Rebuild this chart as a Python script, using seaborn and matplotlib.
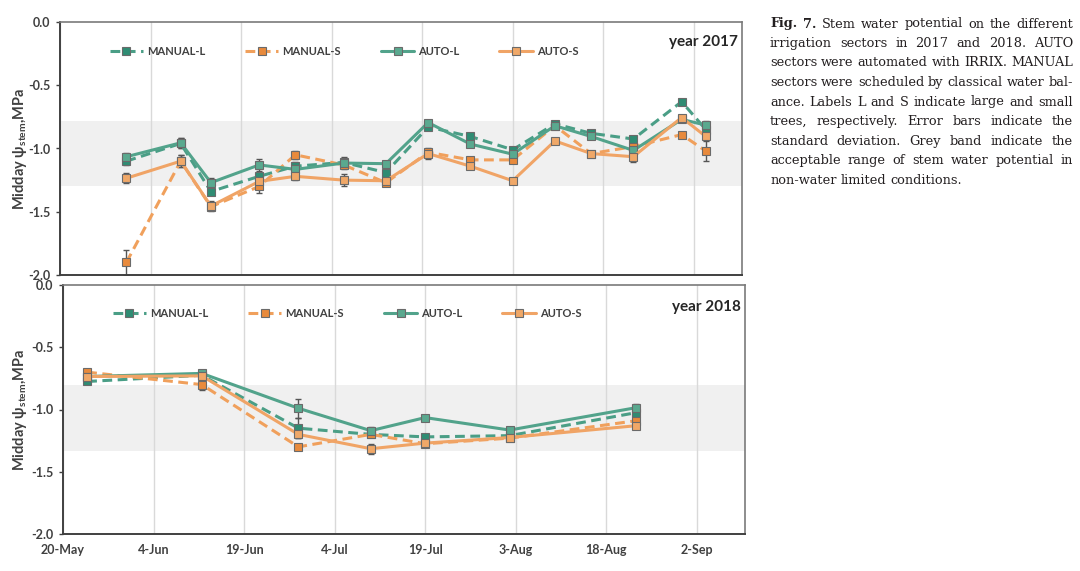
import datetime as dt
import numpy as np
import pandas as pd
import matplotlib
matplotlib.use("Agg")
import matplotlib.pyplot as plt
import seaborn as sns

sns.set_theme(style="white")
plt.rcParams['font.family'] = ['Lato', 'DejaVu Sans']
plt.rcParams['mathtext.fontset'] = 'custom'
plt.rcParams['mathtext.rm'] = 'Lato'
plt.rcParams['mathtext.it'] = 'Lato:italic'
plt.rcParams['mathtext.bf'] = 'Lato:bold'

# ---------------- data ----------------
series = ["MANUAL-L", "MANUAL-S", "AUTO-L", "AUTO-S"]

dates_2017 = ["05-31", "06-09", "06-14", "06-22", "06-28", "07-06", "07-13", "07-20",
              "07-27", "08-03", "08-10", "08-16", "08-23", "08-31", "09-04"]
manual_l_2017 = [-1.10, -0.96, -1.34, -1.22, -1.14, -1.11, -1.19, -0.83, -0.905, -1.01, -0.805, -0.88, -0.925, -0.63, -0.85]
manual_s_2017 = [-1.90, -1.10, -1.46, -1.30, -1.05, -1.13, -1.27, -1.03, -1.09, -1.09, -0.82, -1.04, -0.985, -0.89, -1.02]
auto_l_2017 = [-1.065, -0.955, -1.27, -1.13, -1.165, -1.115, -1.12, -0.795, -0.965, -1.045, -0.82, -0.905, -1.015, -0.77, -0.815]
auto_s_2017 = [-1.235, -1.10, -1.455, -1.26, -1.22, -1.25, -1.255, -1.04, -1.14, -1.255, -0.94, -1.04, -1.065, -0.755, -0.905]
sd_manual_l_2017 = [0.03, 0.04, 0.03, 0.03, 0.03, 0.04, 0.02, 0.02, 0.02, 0.02, 0.02, 0.02, 0.02, 0.02, 0.03]
sd_manual_s_2017 = [0.10, 0.05, 0.03, 0.055, 0.03, 0.03, 0.02, 0.02, 0.02, 0.02, 0.02, 0.02, 0.02, 0.02, 0.08]
sd_auto_l_2017 = [0.03, 0.04, 0.04, 0.05, 0.03, 0.04, 0.02, 0.02, 0.02, 0.02, 0.02, 0.02, 0.02, 0.02, 0.03]
sd_auto_s_2017 = [0.04, 0.05, 0.04, 0.04, 0.03, 0.05, 0.02, 0.04, 0.02, 0.02, 0.02, 0.02, 0.04, 0.02, 0.03]

dates_2018 = ["05-24", "06-12", "06-28", "07-10", "07-19", "08-02", "08-23"]
manual_l_2018 = [-0.775, -0.725, -1.15, -1.20, -1.22, -1.21, -1.025]
manual_s_2018 = [-0.70, -0.80, -1.30, -1.20, -1.275, -1.23, -1.09]
auto_l_2018 = [-0.735, -0.71, -0.99, -1.17, -1.065, -1.165, -0.985]
auto_s_2018 = [-0.735, -0.73, -1.20, -1.315, -1.27, -1.225, -1.13]
sd_manual_l_2018 = [0.02, 0.02, 0.08, 0.02, 0.02, 0.02, 0.02]
sd_manual_s_2018 = [0.02, 0.04, 0.02, 0.02, 0.02, 0.02, 0.02]
sd_auto_l_2018 = [0.02, 0.02, 0.075, 0.03, 0.01, 0.02, 0.03]
sd_auto_s_2018 = [0.02, 0.02, 0.03, 0.04, 0.02, 0.02, 0.02]

band_2017 = (-1.30, -0.78)
band_2018 = (-1.33, -0.80)

y_ticks = [0.0, -0.5, -1.0, -1.5, -2.0]
x_tick_labels = ["20-May", "4-Jun", "19-Jun", "4-Jul", "19-Jul", "3-Aug", "18-Aug", "2-Sep"]

caption_lines = [
    "Fig. 7. Stem water potential on the different",
    "irrigation sectors in 2017 and 2018. AUTO",
    "sectors were automated with IRRIX. MANUAL",
    "sectors were scheduled by classical water bal-",
    "ance. Labels L and S indicate large and small",
    "trees, respectively. Error bars indicate the",
    "standard deviation. Grey band indicate the",
    "acceptable range of stem water potential in",
    "non-water limited conditions.",
]

# ---------------- styles ----------------
line_col = {"MANUAL-L": "#4a9e86", "AUTO-L": "#52a38b", "MANUAL-S": "#f0a05c", "AUTO-S": "#f0a466"}
face_col = {"MANUAL-L": "#2f8c73", "AUTO-L": "#5aa98f", "MANUAL-S": "#e88a3c", "AUTO-S": "#f0a868"}
dashed = {"MANUAL-L": True, "MANUAL-S": True, "AUTO-L": False, "AUTO-S": False}
text_col = "#404040"


def build_df(year, dates, vals, sds):
    rows = []
    for name, v, s in zip(series, vals, sds):
        for d, yv, sv in zip(dates, v, s):
            m, dd = d.split("-")
            rows.append({"date": pd.Timestamp(year, int(m), int(dd)), "value": yv, "sd": sv, "series": name})
    return pd.DataFrame(rows)


df17 = build_df(2017, dates_2017,
                [manual_l_2017, manual_s_2017, auto_l_2017, auto_s_2017],
                [sd_manual_l_2017, sd_manual_s_2017, sd_auto_l_2017, sd_auto_s_2017])
df18 = build_df(2018, dates_2018,
                [manual_l_2018, manual_s_2018, auto_l_2018, auto_s_2018],
                [sd_manual_l_2018, sd_manual_s_2018, sd_auto_l_2018, sd_auto_s_2018])

W, H = 1080, 571
fig = plt.figure(figsize=(W / 100, H / 100), dpi=100)
ax1 = fig.add_axes([60 / W, 1 - 275 / H, 682 / W, 253 / H])
ax2 = fig.add_axes([63 / W, 1 - 534 / H, 682 / W, 249 / H])


def draw_panel(ax, df, year, band, label, show_x):
    start = pd.Timestamp(year, 5, 20)
    end = pd.Timestamp(year, 9, 10)
    ticks = [start + pd.Timedelta(days=15 * i) for i in range(len(x_tick_labels))]
    ax.axhspan(band[0], band[1], color="#f0f0f0", zorder=0, lw=0)
    for t in ticks:
        ax.axvline(t, color="#d9d9d9", lw=1.0, zorder=0.5)
    for name in series:
        sub = df[df.series == name]
        ax.errorbar(sub.date, sub.value, yerr=sub.sd, fmt="none", ecolor="#555555",
                    elinewidth=1.0, capsize=2.5, capthick=1.0, zorder=2)
        sns.lineplot(data=sub, x="date", y="value", ax=ax, color=line_col[name],
                     lw=2.2, marker="s", markersize=6, markerfacecolor=face_col[name],
                     markeredgecolor="#6a6a6a", markeredgewidth=0.8,
                     linestyle=(0, (3.2, 1.8)) if dashed[name] else "-",
                     label=name, zorder=3, errorbar=None, estimator=None, sort=False)
    ax.set_xlim(start, end)
    ax.set_ylim(-2.0, 0.0)
    ax.set_yticks(y_ticks)
    ax.set_yticklabels([f"{v:.1f}" for v in y_ticks], fontsize=9, fontweight="bold", color=text_col)
    ax.set_xticks(ticks)
    if show_x:
        ax.set_xticklabels(x_tick_labels, fontsize=9, fontweight="bold", color=text_col)
    else:
        ax.set_xticklabels([])
    ax.tick_params(axis="y", length=3, width=1, color="#404040", pad=4, direction="out", left=True)
    ax.tick_params(axis="x", length=0, pad=7)
    ax.set_xlabel("")
    ax.set_ylabel(r"Midday ψ$_{\mathbf{stem}}$,MPa", fontsize=10.5, fontweight="bold",
                  color=text_col)
    for sp in ["left", "bottom"]:
        ax.spines[sp].set_color("#404040")
        ax.spines[sp].set_linewidth(1.4)
    for sp in ["top", "right"]:
        ax.spines[sp].set_color("#7a7a7a")
        ax.spines[sp].set_linewidth(1.2)
    ax.text(0.994, 0.92 if year == 2017 else 0.91, label, transform=ax.transAxes, ha="right", va="center",
            fontsize=11, fontweight="bold", color="#262626")
    leg = ax.legend(loc="center left", bbox_to_anchor=(0.058, 0.885), ncol=4, frameon=False,
                    handlelength=3.0, handletextpad=0.35, columnspacing=3.6,
                    prop={"weight": "bold", "size": 8})
    for t in leg.get_texts():
        t.set_color(text_col)
    ax.grid(False)


draw_panel(ax1, df17, 2017, band_2017, "year 2017", False)
draw_panel(ax2, df18, 2018, band_2018, "year 2018", True)
ax1.yaxis.set_label_coords(-0.046, 0.5)
ax2.yaxis.set_label_coords(-0.050, 0.5)

# ---------------- caption (justified) ----------------
fig.canvas.draw()
renderer = fig.canvas.get_renderer()
cap_family = ["DejaVu Serif"]
cap_size = 10.0
x_left, x_right = 770, 1073
y0, dy = 24, 19.5


def wwidth(word, weight, size):
    t = fig.text(0, 0, word, fontsize=size, family=cap_family, weight=weight)
    w = t.get_window_extent(renderer).width
    t.remove()
    return w


def line_words(i, line):
    words = line.split(" ")
    weights = ["bold" if (i == 0 and k < 2) else "normal" for k in range(len(words))]
    return words, weights


# shrink font if any line would overflow with normal spacing
for _ in range(10):
    sp = wwidth("a a", "normal", cap_size) - 2 * wwidth("a", "normal", cap_size)
    ok = True
    for i, line in enumerate(caption_lines):
        words, weights = line_words(i, line)
        tot = sum(wwidth(w, wt, cap_size) for w, wt in zip(words, weights)) + sp * 0.6 * (len(words) - 1)
        if tot > x_right - x_left:
            ok = False
            break
    if ok:
        break
    cap_size -= 0.25

for i, line in enumerate(caption_lines):
    words, weights = line_words(i, line)
    widths = [wwidth(w, wt, cap_size) for w, wt in zip(words, weights)]
    if i < len(caption_lines) - 1 and len(words) > 1:
        gap = (x_right - x_left - sum(widths)) / (len(words) - 1)
    else:
        gap = wwidth("a a", "normal", cap_size) - 2 * wwidth("a", "normal", cap_size)
    x = x_left
    yy = y0 + i * dy
    for w, wt, wd in zip(words, weights, widths):
        fig.text(x / W, 1 - yy / H, w, fontsize=cap_size, family=cap_family, weight=wt,
                 color="#231f20", va="center", ha="left")
        x += wd + gap

fig.savefig("out.png", dpi=100)
